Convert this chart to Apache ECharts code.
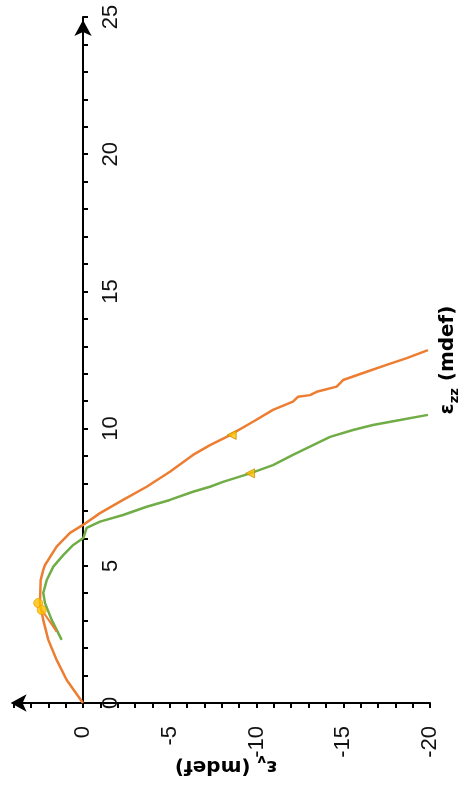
<!DOCTYPE html>
<html>
<head>
<meta charset="utf-8">
<script src="https://cdn.jsdelivr.net/npm/echarts@6/dist/echarts.min.js"></script>
<style>
html,body{margin:0;padding:0;background:#fff;}
#chart{width:458px;height:789px;}
</style>
</head>
<body>
<div id="chart"></div>
<script>
// ε_v (horizontal, inverted) and ε_zz (vertical) in mdef
const orangeEv  = [0, 0.94, 1.52, 2.0, 2.29, 2.48, 2.44, 2.29, 2.19, 1.52, 0.75, 0, -0.98, -2.31, -3.67, -5.01, -6.34, -7.32, -8.28, -9.80, -10.95, -12.10, -12.39, -13.08, -13.47, -14.62, -14.99, -16.35, -17.50, -18.66, -19.88];
const orangeEzz = [0, 0.84, 1.57, 2.30, 3.02, 3.64, 4.48, 4.85, 5.03, 5.70, 6.20, 6.49, 6.92, 7.40, 7.88, 8.43, 9.04, 9.40, 9.70, 10.25, 10.68, 10.98, 11.16, 11.22, 11.34, 11.53, 11.77, 12.07, 12.32, 12.57, 12.86];
const orangeHookEv  = [2.38, 1.95, 1.52];
const orangeHookEzz = [3.39, 3.0, 2.60];
const greenEv  = [1.23, 1.80, 2.19, 2.29, 2.09, 1.71, 1.14, 0.56, -0.02, -0.21, -0.98, -2.31, -3.67, -5.01, -6.34, -7.32, -8.07, -9.63, -10.95, -12.10, -13.08, -14.24, -15.56, -16.71, -18.27, -19.88];
const greenEzz = [2.30, 3.02, 3.64, 4.01, 4.48, 4.97, 5.39, 5.76, 6.01, 6.38, 6.61, 6.85, 7.15, 7.40, 7.70, 7.88, 8.06, 8.37, 8.67, 9.04, 9.34, 9.70, 9.95, 10.13, 10.31, 10.50];
const circleEv  = [2.58, 2.38];
const circleEzz = [3.64, 3.39];
const triangleEv  = [-8.57, -9.63];
const triangleEzz = [9.77, 8.37];
const xTickLabels = [0, -5, -10, -15, -20];
const yTickLabels = [0, 5, 10, 15, 20, 25];

const zip = (a, b) => a.map((v, i) => [v, b[i]]);

const chart = echarts.init(document.getElementById('chart'), null, {renderer: 'canvas'});
const axisColor = '#000';
const labelFont = 'Liberation Sans, Arial, sans-serif';
const titleRich = {
  e: {fontFamily: 'DejaVu Sans', fontWeight: 'bold', fontSize: 20, color: '#000', lineHeight: 24, verticalAlign: 'bottom'},
  s: {fontFamily: 'DejaVu Sans', fontWeight: 'bold', fontSize: 13, color: '#000', lineHeight: 24, verticalAlign: 'bottom', padding: [0, 0, -3, 0]}
};

const gridLeft = 13.6, gridRight = 28;
const plotW = 458 - gridLeft - gridRight;
// pixel of ε_v = 0 measured from right edge of plot (x axis spans -20 .. 4)
const yAxisOffset = -plotW * 20 / 24;

chart.setOption({
  animation: false,
  backgroundColor: '#fff',
  grid: {left: gridLeft, right: gridRight, top: 17, bottom: 86, containLabel: false},
  xAxis: {
    type: 'value', inverse: true, min: -20, max: 4, interval: 1,
    axisLine: {show: true, onZero: false, symbol: ['arrow', 'none'], symbolSize: [13, 16], symbolOffset: [-3, 0],
      lineStyle: {color: axisColor, width: 2}},
    axisTick: {show: true, interval: 0, length: 5, lineStyle: {color: axisColor, width: 2}},
    axisLabel: {interval: 0, rotate: 90, margin: 23, fontSize: 22, fontFamily: labelFont, color: '#111',
      formatter: v => (xTickLabels.indexOf(v) >= 0 ? String(v) : '')},
    splitLine: {show: false}
  },
  yAxis: {
    type: 'value', position: 'right', offset: yAxisOffset, min: 0, max: 25, interval: 1,
    axisLine: {show: true, onZero: false, symbol: ['none', 'arrow'], symbolSize: [13, 16], symbolOffset: [0, -3],
      lineStyle: {color: axisColor, width: 2}},
    axisTick: {show: true, interval: 0, length: 5, lineStyle: {color: axisColor, width: 2}},
    axisLabel: {interval: 0, rotate: 90, margin: 17, fontSize: 22, fontFamily: labelFont, color: '#111',
      formatter: v => (yTickLabels.indexOf(v) >= 0 ? String(v) : '')},
    splitLine: {show: false}
  },
  series: [
    {type: 'line', data: zip(greenEv, greenEzz), showSymbol: false, smooth: false,
      lineStyle: {color: '#70AD47', width: 2.5}, z: 2},
    {type: 'line', data: zip(orangeHookEv, orangeHookEzz), showSymbol: false,
      lineStyle: {color: '#ED7D31', width: 2}, z: 3},
    {type: 'line', data: zip(orangeEv, orangeEzz), showSymbol: false,
      lineStyle: {color: '#ED7D31', width: 2.5}, z: 3},
    {type: 'scatter', data: zip(circleEv, circleEzz), symbol: 'circle', symbolSize: 9,
      itemStyle: {color: '#FFC000', borderColor: '#E8A200', borderWidth: 1}, z: 5},
    {type: 'scatter', data: zip(triangleEv, triangleEzz), symbol: 'triangle', symbolSize: 9, symbolRotate: 90,
      itemStyle: {color: '#FFC000', borderColor: '#C89000', borderWidth: 1}, z: 5}
  ],
  graphic: [
    {type: 'text', x: 446, y: 360, rotation: Math.PI / 2,
      style: {text: '{e|ε}{s|zz}{e| (mdef)}', rich: titleRich, align: 'center', verticalAlign: 'middle'}},
    {type: 'text', x: 226, y: 768, rotation: Math.PI,
      style: {text: '{e|ε}{s|v}{e| (mdef)}', rich: titleRich, align: 'center', verticalAlign: 'middle'}}
  ]
});
</script>
</body>
</html>
